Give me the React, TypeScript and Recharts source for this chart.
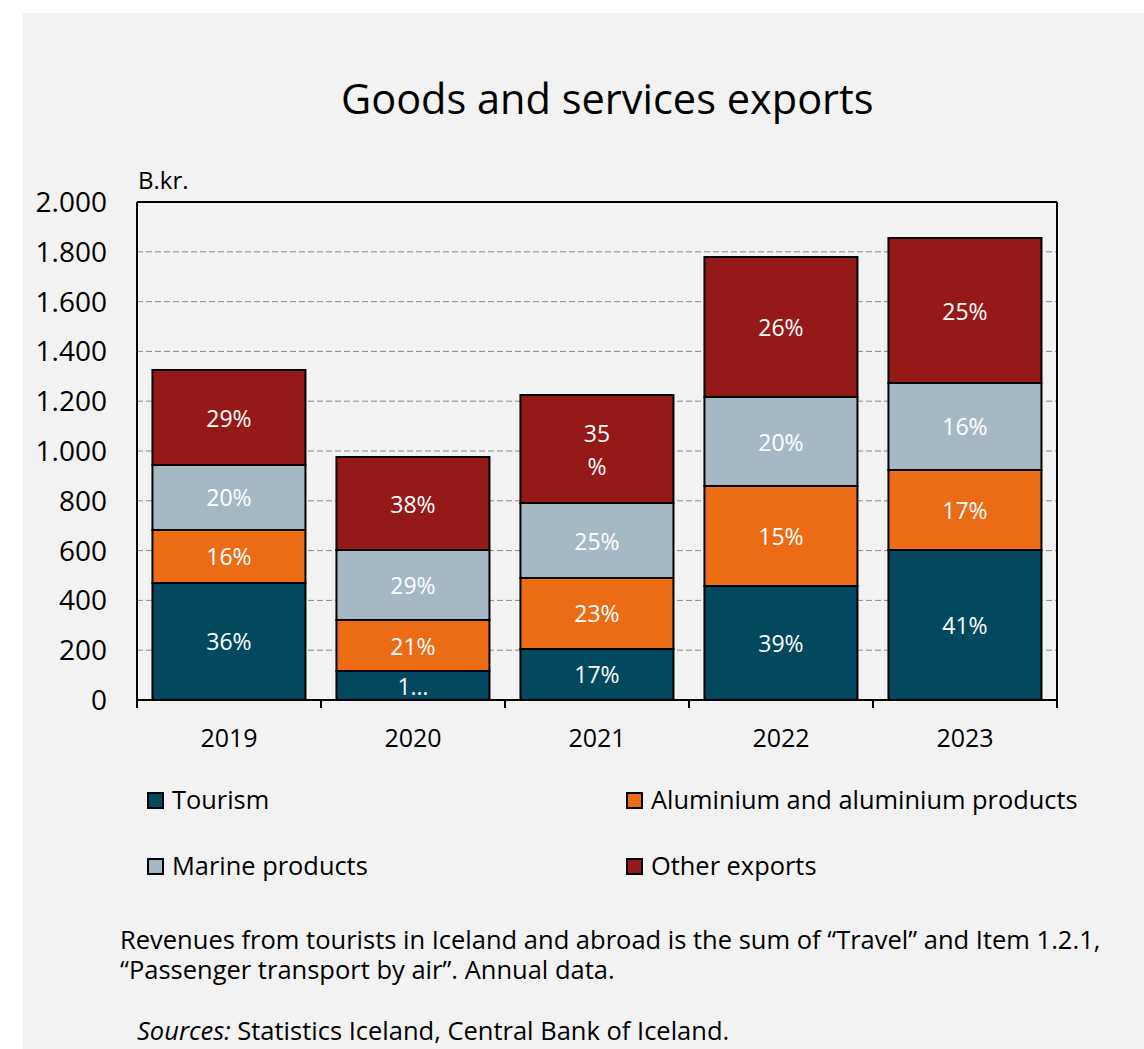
import { BarChart, Bar, XAxis, YAxis, CartesianGrid, LabelList } from "recharts";

const years = ["2019", "2020", "2021", "2022", "2023"];
const tourism = [470, 116, 205, 458, 602];
const aluminium = [213, 205, 285, 401, 322];
const marine = [261, 281, 301, 358, 349];
const other = [381, 374, 434, 562, 582];

const tourismPct = ["36%", "1…", "17%", "39%", "41%"];
const aluminiumPct = ["16%", "21%", "23%", "15%", "17%"];
const marinePct = ["20%", "29%", "25%", "20%", "16%"];
const otherPct = ["29%", "38%", "35\n%", "26%", "25%"];

const yTicks = [0, 200, 400, 600, 800, 1000, 1200, 1400, 1600, 1800, 2000];

const series = [
  { key: "tourism", name: "Tourism", color: "#02495f" },
  { key: "aluminium", name: "Aluminium and aluminium products", color: "#ec6b15" },
  { key: "marine", name: "Marine products", color: "#a6b8c3" },
  { key: "other", name: "Other exports", color: "#941917" },
];

const data = years.map((year, i) => ({
  year,
  tourism: tourism[i],
  aluminium: aluminium[i],
  marine: marine[i],
  other: other[i],
  tourismLabel: tourismPct[i],
  aluminiumLabel: aluminiumPct[i],
  marineLabel: marinePct[i],
  otherLabel: otherPct[i],
}));

const FONT = "'Open Sans', sans-serif";

const fmt = (v: number) =>
  v >= 1000 ? `${Math.floor(v / 1000)}.${String(v % 1000).padStart(3, "0")}` : String(v);

const renderLabel = (props: any) => {
  const { x, y, width, height, value } = props;
  const lines = String(value).split("\n");
  const cx = x + width / 2;
  const cy = y + height / 2;
  const lh = 33;
  return (
    <g>
      {lines.map((l, i) => (
        <text
          key={i}
          x={cx}
          y={cy + (i - (lines.length - 1) / 2) * lh}
          fill="#ffffff"
          fontSize={23}
          fontFamily={FONT}
          textAnchor="middle"
          dominantBaseline="central"
        >
          {l}
        </text>
      ))}
    </g>
  );
};

// year label plus the tick marks on the category boundaries
const YearTick = (props: any) => {
  const { x, y, payload, index, visibleTicksCount } = props;
  const half = payload.offset || 0;
  const last = index === visibleTicksCount - 1;
  return (
    <g>
      <line x1={x - half} x2={x - half} y1={y} y2={y + 8} stroke="#000" strokeWidth={2} />
      {last && <line x1={x + half} x2={x + half} y1={y} y2={y + 8} stroke="#000" strokeWidth={2} />}
      <text x={x} y={y + 29} dy="0.71em" textAnchor="middle" fontSize={25} fontFamily={FONT} fill="#000">
        {payload.value}
      </text>
    </g>
  );
};

export default function App() {
  return (
    <div
      style={{
        position: "absolute",
        left: 23,
        top: 13,
        width: 1121,
        height: 1036,
        background: "#f2f2f2",
        fontFamily: FONT,
        color: "#000",
      }}
    >
      <div style={{ position: "absolute", left: 318, top: 65, fontSize: 41.5, lineHeight: 1, whiteSpace: "nowrap" }}>
        Goods and services exports
      </div>
      <div style={{ position: "absolute", left: 115, top: 155, fontSize: 24, lineHeight: 1 }}>B.kr.</div>

      <div style={{ position: "absolute", left: 0, top: 0 }}>
        <BarChart
          width={1121}
          height={760}
          data={data}
          margin={{ top: 188, right: 86, bottom: 72, left: 0 }}
          barCategoryGap="8.4%"
          style={{ fontFamily: FONT }}
        >
          <CartesianGrid vertical={false} stroke="#8c8c8c" strokeDasharray="6 3" />
          <XAxis
            dataKey="year"
            height={1}
            axisLine={{ stroke: "#000", strokeWidth: 2 }}
            tickLine={false}
            tickSize={0}
            tickMargin={0}
            interval={0}
            tick={<YearTick />}
          />
          <XAxis
            xAxisId="top"
            orientation="top"
            dataKey="year"
            height={1}
            axisLine={{ stroke: "#000", strokeWidth: 2 }}
            tickLine={false}
            tick={false}
          />
          <YAxis
            width={114}
            domain={[0, 2000]}
            ticks={yTicks}
            interval={0}
            axisLine={{ stroke: "#000", strokeWidth: 2 }}
            tickLine={false}
            tickSize={0}
            tickMargin={30}
            tickFormatter={fmt}
            tick={{ fill: "#000", fontSize: 28 }}
          />
          <YAxis
            yAxisId="right"
            orientation="right"
            width={1}
            domain={[0, 2000]}
            axisLine={{ stroke: "#000", strokeWidth: 2 }}
            tickLine={false}
            tick={false}
          />
          {series.map((s) => (
            <Bar
              key={s.key}
              dataKey={s.key}
              name={s.name}
              stackId="a"
              fill={s.color}
              stroke="#000"
              strokeWidth={2}
              isAnimationActive={false}
            >
              <LabelList dataKey={`${s.key}Label`} content={renderLabel} />
            </Bar>
          ))}
        </BarChart>
      </div>

      {series.map((s, i) => {
        const col = i % 2;
        const row = Math.floor(i / 2);
        const sqLeft = col === 0 ? 124 : 603;
        const top = 779 + row * 66;
        return (
          <div key={s.key}>
            <div
              style={{
                position: "absolute",
                left: sqLeft,
                top,
                width: 17,
                height: 17,
                boxSizing: "border-box",
                border: "2px solid #000",
                background: s.color,
              }}
            />
            <div
              style={{
                position: "absolute",
                left: sqLeft + 25,
                top: top - 5,
                fontSize: 25.4,
                lineHeight: 1,
                whiteSpace: "nowrap",
              }}
            >
              {s.name}
            </div>
          </div>
        );
      })}

      <div style={{ position: "absolute", left: 97, top: 911, fontSize: 25.5, lineHeight: "30px", whiteSpace: "nowrap" }}>
        <div style={{ height: 30 }}>
          Revenues from tourists in Iceland and abroad is the sum of “Travel” and Item 1.2.1,
        </div>
        <div style={{ height: 30 }}>“Passenger transport by air”. Annual data.</div>
      </div>
      <div style={{ position: "absolute", left: 114, top: 1005, fontSize: 25.5, lineHeight: 1, whiteSpace: "nowrap" }}>
        <i>Sources:</i> Statistics Iceland, Central Bank of Iceland.
      </div>
    </div>
  );
}
